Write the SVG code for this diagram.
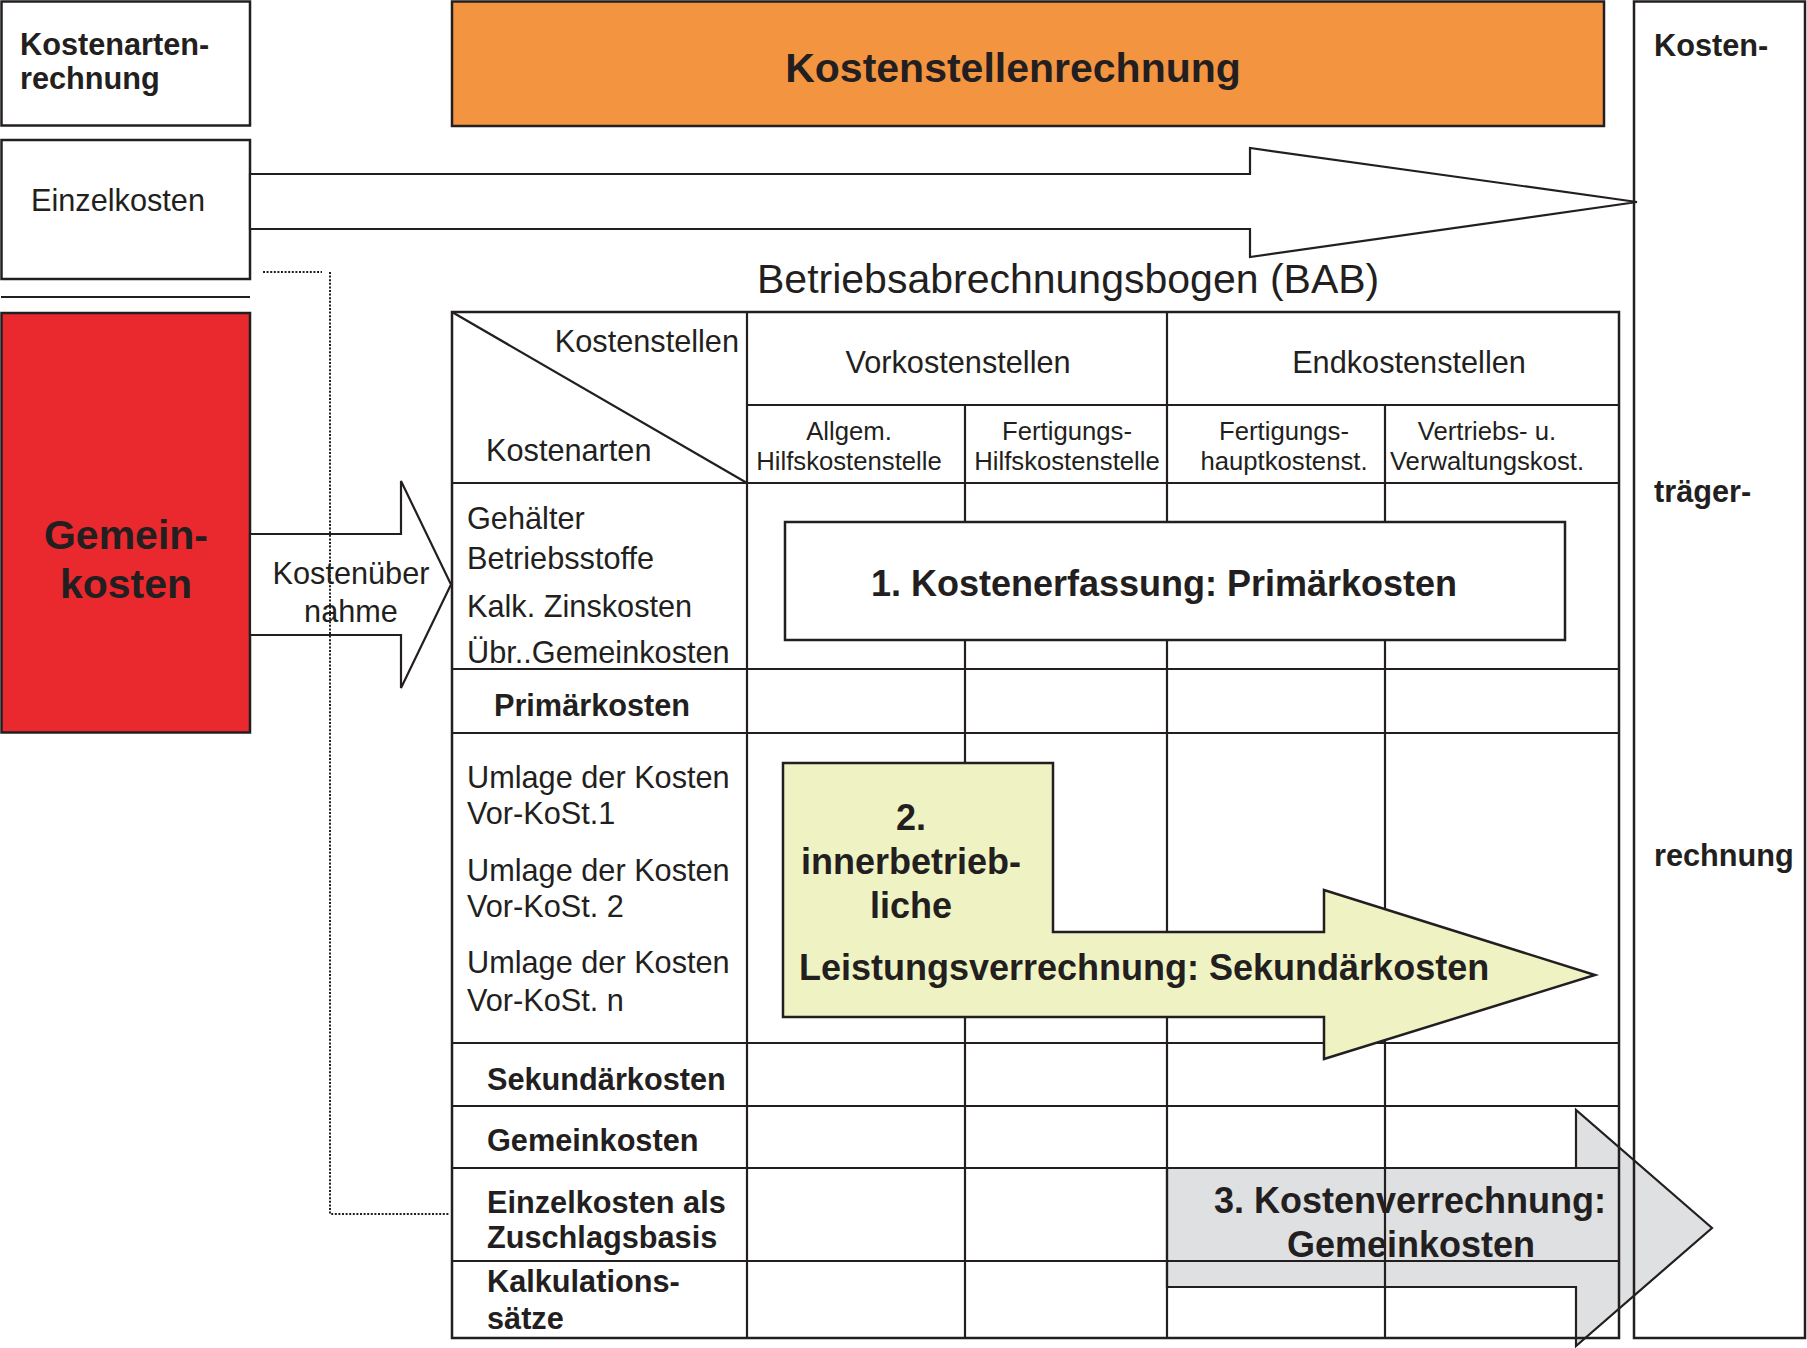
<svg xmlns="http://www.w3.org/2000/svg" width="1807" height="1348" viewBox="0 0 1807 1348">
<defs>
<style>
text{font-family:"Liberation Sans",Arial,sans-serif;fill:#231f20}
.r{font-size:30.7px}
.b{font-size:30.7px;font-weight:bold}
.s{font-size:25.7px}
.big{font-size:41px;font-weight:bold}
.lab{font-size:36px;font-weight:bold}
.c{text-anchor:middle}
.box{fill:#fff;stroke:#231f20;stroke-width:2.5}
.ln{stroke:#231f20;stroke-width:2.2;fill:none}
.arr{fill:#fff;stroke:#231f20;stroke-width:2.2;stroke-linejoin:miter}
</style>
</defs>
<rect width="1807" height="1348" fill="#fff"/>

<g id="kostenartenrechnung">
<rect class="box" x="1.5" y="1.5" width="248.5" height="124"/>
<text class="b" x="20" y="55">Kostenarten-</text>
<text class="b" x="20" y="89">rechnung</text>
</g>

<g id="kostenstellenrechnung">
<rect x="452" y="1.5" width="1152" height="124.5" fill="#f39441" stroke="#231f20" stroke-width="2.5"/>
<text class="big c" x="1013" y="82">Kostenstellenrechnung</text>
</g>

<g id="einzelkosten">
<rect class="box" x="1.5" y="140" width="248.5" height="139"/>
<text class="r" x="31" y="211">Einzelkosten</text>
</g>
<line class="ln" x1="1" y1="297" x2="250" y2="297"/>

<g id="gemeinkosten">
<rect x="1.5" y="313" width="248.5" height="419.5" fill="#e9292e" stroke="#231f20" stroke-width="2.5"/>
<text class="big c" x="126" y="549">Gemein-</text>
<text class="big c" x="126" y="598">kosten</text>
</g>

<g id="connectors">
<polygon class="arr" points="250,174 1250,174 1250,148 1637,202 1250,257 1250,229 250,229"/>
<polygon class="arr" points="250,534 401,534 401,481 451,584.5 401,688 401,635 250,635"/>
<text class="r c" x="351" y="584">Kostenüber</text>
<text class="r c" x="351" y="622">nahme</text>
<polyline points="263,272 322,272" fill="none" stroke="#231f20" stroke-width="2" stroke-dasharray="2 1.6"/>
<polyline points="330,272 330,1214 449,1214" fill="none" stroke="#231f20" stroke-width="2" stroke-dasharray="2 1.6"/>
</g>

<g id="kostenverrechnung">
<polygon points="1167,1168 1576,1168 1576,1110 1712,1228 1576,1346 1576,1287 1167,1287" fill="#dfe0e2" stroke="#231f20" stroke-width="2.2"/>
</g>

<g id="bab">
<text x="757" y="293" style="font-size:41px">Betriebsabrechnungsbogen (BAB)</text>
<rect x="452" y="312" width="1167" height="1026" fill="none" stroke="#231f20" stroke-width="2.5"/>
<line class="ln" x1="452" y1="312" x2="747" y2="483"/>
<line class="ln" x1="747" y1="405" x2="1619" y2="405"/>
<line class="ln" x1="452" y1="483" x2="1619" y2="483"/>
<line class="ln" x1="452" y1="669" x2="1619" y2="669"/>
<line class="ln" x1="452" y1="733" x2="1619" y2="733"/>
<line class="ln" x1="452" y1="1043" x2="1619" y2="1043"/>
<line class="ln" x1="452" y1="1106" x2="1619" y2="1106"/>
<line class="ln" x1="452" y1="1168" x2="1619" y2="1168"/>
<line class="ln" x1="452" y1="1261" x2="1619" y2="1261"/>
<line class="ln" x1="747" y1="312" x2="747" y2="1338"/>
<line class="ln" x1="965" y1="405" x2="965" y2="1338"/>
<line class="ln" x1="1167" y1="312" x2="1167" y2="1338"/>
<line class="ln" x1="1385" y1="405" x2="1385" y2="1338"/>

<text class="r" x="739" y="352" text-anchor="end">Kostenstellen</text>
<text class="r" x="486" y="461">Kostenarten</text>
<text class="r c" x="958" y="373">Vorkostenstellen</text>
<text class="r c" x="1409" y="373">Endkostenstellen</text>
<text class="s c" x="849" y="440">Allgem.</text>
<text class="s c" x="849" y="470">Hilfskostenstelle</text>
<text class="s c" x="1067" y="440">Fertigungs-</text>
<text class="s c" x="1067" y="470">Hilfskostenstelle</text>
<text class="s c" x="1284" y="440">Fertigungs-</text>
<text class="s c" x="1284" y="470">hauptkostenst.</text>
<text class="s c" x="1487" y="440">Vertriebs- u.</text>
<text class="s c" x="1487" y="470">Verwaltungskost.</text>

<text class="r" x="467" y="529">Gehälter</text>
<text class="r" x="467" y="569">Betriebsstoffe</text>
<text class="r" x="467" y="617">Kalk. Zinskosten</text>
<text class="r" x="467" y="663">Übr..Gemeinkosten</text>
<text class="b c" x="592" y="716">Primärkosten</text>
<text class="r" x="467" y="788">Umlage der Kosten</text>
<text class="r" x="467" y="824">Vor-KoSt.1</text>
<text class="r" x="467" y="881">Umlage der Kosten</text>
<text class="r" x="467" y="917">Vor-KoSt. 2</text>
<text class="r" x="467" y="973">Umlage der Kosten</text>
<text class="r" x="467" y="1011">Vor-KoSt. n</text>
<text class="b" x="487" y="1090">Sekundärkosten</text>
<text class="b" x="487" y="1151">Gemeinkosten</text>
<text class="b" x="487" y="1213">Einzelkosten als</text>
<text class="b" x="487" y="1248">Zuschlagsbasis</text>
<text class="b" x="487" y="1292">Kalkulations-</text>
<text class="b" x="487" y="1329">sätze</text>
</g>

<g id="kostentraegerrechnung">
<rect x="1634" y="1.5" width="171" height="1336.5" fill="none" stroke="#231f20" stroke-width="2.5"/>
<text class="b" x="1654" y="56">Kosten-</text>
<text class="b" x="1654" y="502">träger-</text>
<text class="b" x="1654" y="866">rechnung</text>
</g>

<g id="kostenerfassung">
<rect class="box" x="785" y="522" width="780" height="118"/>
<text class="lab c" x="1164" y="596">1. Kostenerfassung: Primärkosten</text>
</g>

<g id="leistungsverrechnung">
<polygon points="783,763 1053,763 1053,932 1324,932 1324,890 1595,975 1324,1059 1324,1017 783,1017" fill="#eff3c3" stroke="#231f20" stroke-width="2.5"/>
<text class="lab c" x="911" y="830">2.</text>
<text class="lab c" x="911" y="874">innerbetrieb-</text>
<text class="lab c" x="911" y="918">liche</text>
<text class="lab" x="799" y="980">Leistungsverrechnung: Sekundärkosten</text>
</g>

<g id="kostenverrechnung-label">
<text class="lab c" x="1410" y="1213">3. Kostenverrechnung:</text>
<text class="lab c" x="1411" y="1257">Gemeinkosten</text>
</g>
</svg>
